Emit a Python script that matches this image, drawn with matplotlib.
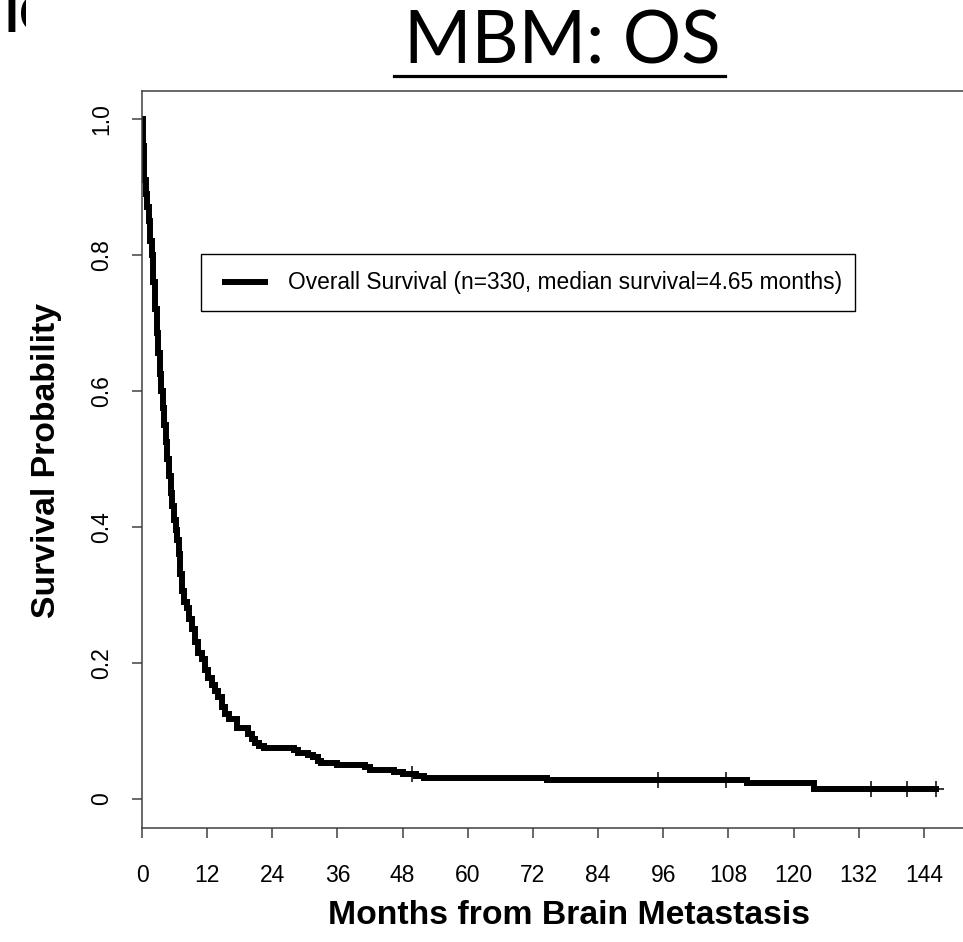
import numpy as np
import matplotlib
matplotlib.use("Agg")
import matplotlib.pyplot as plt
from matplotlib.lines import Line2D
from matplotlib.patches import Rectangle
from matplotlib.transforms import Bbox, TransformedBbox

# ---- data ----
times = [0, 0.15, 0.35, 0.7, 1.0, 1.3, 1.55, 1.8, 2.1, 2.4, 2.7, 3.0, 3.25, 3.5,
         3.8, 4.1, 4.4, 4.65, 5.0, 5.3, 5.6, 5.9, 6.2, 6.5, 6.8, 7.0, 7.3, 7.8,
         8.2, 8.7, 9.2, 9.8, 10.4, 11.0, 11.6, 12.2, 12.8, 13.4, 14.0, 14.7,
         15.2, 16.0, 17.5, 19.5, 20.2, 20.8, 21.5, 22.5, 28.0, 28.8, 30.5, 31.5,
         32.5, 33.0, 36.0, 41.0, 42.0, 46.5, 48.0, 50.5, 52.0, 74.5, 111.5,
         123.8, 146.3]
survival = [1.0, 0.96, 0.91, 0.89, 0.87, 0.85, 0.82, 0.80, 0.76, 0.72, 0.685,
            0.655, 0.625, 0.60, 0.575, 0.55, 0.525, 0.50, 0.475, 0.45, 0.43,
            0.41, 0.395, 0.38, 0.36, 0.33, 0.305, 0.29, 0.28, 0.265, 0.25, 0.23,
            0.215, 0.205, 0.19, 0.178, 0.168, 0.158, 0.15, 0.135, 0.125, 0.118,
            0.104, 0.095, 0.088, 0.082, 0.078, 0.075, 0.071, 0.068, 0.065, 0.061,
            0.056, 0.052, 0.049, 0.046, 0.043, 0.040, 0.036, 0.033, 0.030, 0.027,
            0.023, 0.014, 0.014]
censor_times = [49.8, 95.1, 107.6, 134.2, 140.8, 146.3]
x_ticks = [0, 12, 24, 36, 48, 60, 72, 84, 96, 108, 120, 132, 144]
y_ticks = [0, 0.2, 0.4, 0.6, 0.8, 1.0]
y_ticklabels = ["0", "0.2", "0.4", "0.6", "0.8", "1.0"]
legend_label = "Overall Survival (n=330, median survival=4.65 months)"

# ---- figure ----
W, H = 963, 942
fig = plt.figure(figsize=(W / 100, H / 100), dpi=100)
fig.patch.set_facecolor("white")

L, R, T, B = 142, 963, 91, 828
ax = fig.add_axes([L / W, (H - B) / H, (R - L) / W, (B - T) / H])

LW = 4.3
t_arr = np.array(times)
s_arr = np.array(survival)
ax.plot(t_arr, s_arr, drawstyle="steps-post", color="black", lw=LW,
        solid_joinstyle="miter")
idx = np.searchsorted(t_arr, censor_times, side="right") - 1
ax.plot(censor_times, s_arr[idx], ls="none", marker="+", ms=11, mew=1.1,
        color="black")

ax.set_xlim(0, (R - L) / 5.43)
ax.set_ylim(-0.043, 1.041)

spine_col = "#404040"
for side in ["left", "top", "bottom"]:
    ax.spines[side].set_color(spine_col)
    ax.spines[side].set_linewidth(1.1)
ax.spines["right"].set_visible(False)

font = "Liberation Sans"
ax.set_xticks(x_ticks)
ax.set_xticklabels([str(v) for v in x_ticks], fontsize=16.5, family=font)
ax.set_yticks(y_ticks)
ax.set_yticklabels(y_ticklabels, fontsize=16.5, family=font, rotation=90,
                   va="center")
ax.tick_params(axis="both", direction="out", length=7, width=1.1,
               color=spine_col)
ax.tick_params(axis="x", pad=19)
ax.tick_params(axis="y", pad=14)

fig.text(569 / W, 1 - 915 / H, "Months from Brain Metastasis", ha="center",
         va="center", fontsize=24.3, fontweight="bold", family=font)
fig.text(46 / W, 1 - 460 / H, "Survival Probability", ha="center",
         va="center", rotation=90, fontsize=24.3, fontweight="bold", family=font)

# legend (box, key line, label) in figure pixel positions
def fx(px):
    return px / W

def fy(py):
    return 1 - py / H

fig.add_artist(Rectangle((fx(201), fy(311)), fx(855) - fx(201), fy(254) - fy(311),
                         transform=fig.transFigure, facecolor="white",
                         edgecolor="black", lw=1.0, zorder=5))
fig.add_artist(Line2D([fx(222), fx(268)], [fy(282), fy(282)], color="black",
                      lw=LW, transform=fig.transFigure, zorder=6,
                      solid_capstyle="butt"))
fig.text(fx(288), fy(283), legend_label, ha="left", va="center",
         fontsize=16.4, family=font, zorder=6)

# title (underlined)
fig.text(562 / W, 1 - 63 / H, "MBM: OS", ha="center", va="baseline",
         fontsize=52.5, family="Lato")
fig.add_artist(Line2D([394 / W, 725 / W], [1 - 76 / H, 1 - 76 / H],
                      color="black", lw=2.3, transform=fig.transFigure))
# cropped fragment at top-left (partly hidden in the reference)
fig.text(2 / W, 1 - 32 / H, "I", ha="left", va="baseline", fontsize=51,
         family="Lato")
frag = fig.text(18 / W, 1 - 32 / H, "o", ha="left", va="baseline",
                fontsize=51, family="Lato")
frag.set_clip_box(TransformedBbox(Bbox([[0, 0], [26 / W, 1]]), fig.transFigure))
frag.set_clip_on(True)

fig.savefig("out.png", dpi=100)
